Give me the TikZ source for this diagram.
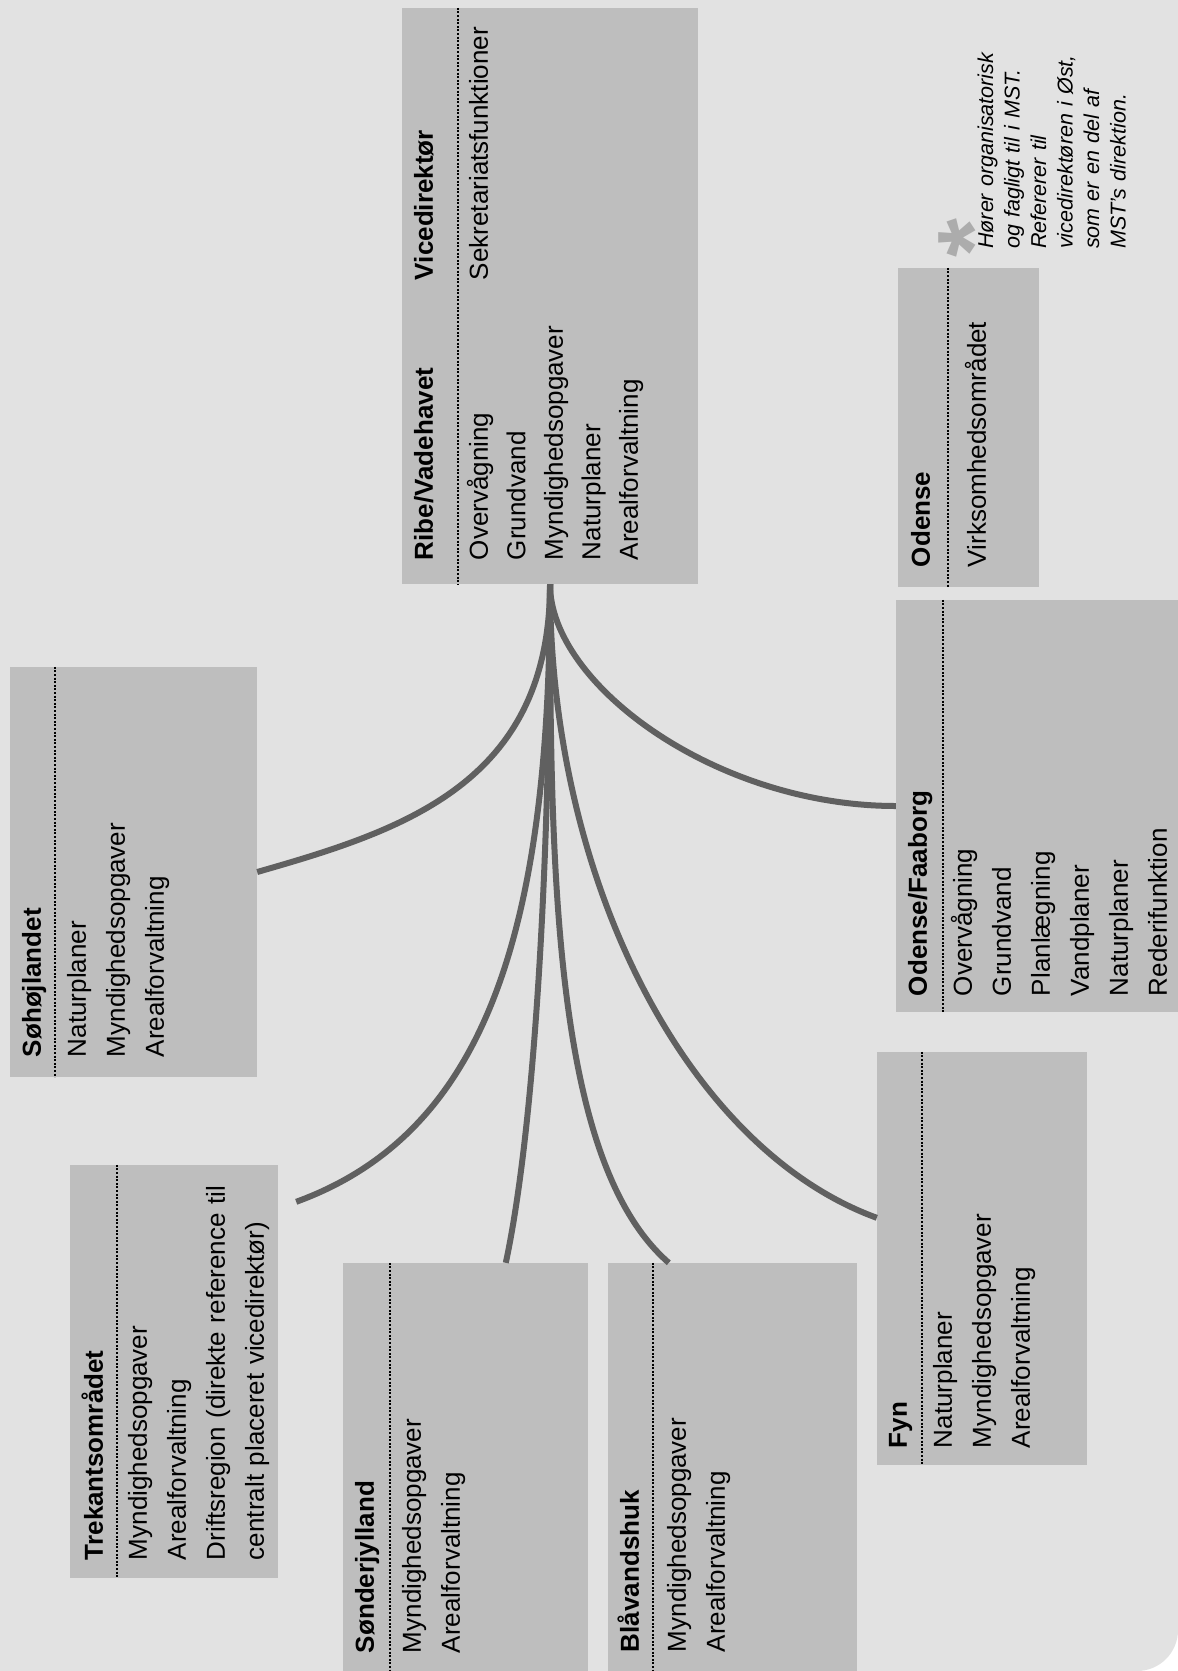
\documentclass[tikz,border=0pt]{standalone}
\usepackage{fontspec}
\setmainfont{Liberation Sans}
\usetikzlibrary{calc}
\definecolor{papir}{RGB}{226,226,226}
\definecolor{boksgraa}{RGB}{190,190,190}
\definecolor{streg}{RGB}{96,96,96}
\definecolor{stjernegraa}{RGB}{172,172,172}
\tikzset{
  boks/.style={rectangle, fill=boksgraa, inner sep=0pt},
  overskrift/.style={rotate=90, anchor=base west, inner sep=0pt, font=\bfseries\fontsize{26}{39}\selectfont},
  punkter/.style={rotate=90, anchor=base west, inner sep=0pt, align=left, text width=400pt, font=\fontsize{26}{39}\selectfont},
  prikket/.style={line width=2pt, dash pattern=on 2pt off 1.6pt},
  gren/.style={line width=6pt, streg},
  note/.style={rotate=90, anchor=base west, inner sep=0pt, align=left, text width=300pt, font=\itshape\fontsize{21.5}{26.5}\selectfont},
  stjernetegn/.style={rotate=90, anchor=base, inner sep=0pt, text=stjernegraa, font=\bfseries\fontsize{100}{100}\selectfont},
}
\begin{document}
\begin{tikzpicture}[x=1pt, y=1pt]
  \useasboundingbox (0,0) rectangle (1178,-1671);
  \fill[white] (0,0) rectangle (1178,-1671);
  \fill[papir] (0,0) -- (1178,0) -- (1178,-1630) arc[start angle=0, end angle=-90, radius=41] -- (0,-1671) -- cycle;

  \node[boks, minimum width=296pt, minimum height=576pt] (ribe) at (550,-296) {};
  \node[boks, minimum width=141pt, minimum height=319pt] (odense) at (968.5,-427.5) {};
  \node[boks, minimum width=247pt, minimum height=410pt] (soh) at (133.5,-872) {};
  \node[boks, minimum width=208pt, minimum height=413pt] (trek) at (174,-1371.5) {};
  \node[boks, minimum width=245pt, minimum height=408pt] (sond) at (465.5,-1467) {};
  \node[boks, minimum width=249pt, minimum height=408pt] (blaa) at (732.5,-1467) {};
  \node[boks, minimum width=210pt, minimum height=413pt] (fyn) at (982,-1258.5) {};
  \node[boks, minimum width=282pt, minimum height=412pt] (ofa) at (1037,-806) {};

  \draw[prikket] ($(ribe.north west)+(56,0)$) -- ($(ribe.south west)+(56,0)$);
  \draw[prikket] ($(odense.north west)+(50,0)$) -- ($(odense.south west)+(50,0)$);
  \draw[prikket] ($(soh.north west)+(45,0)$) -- ($(soh.south west)+(45,0)$);
  \draw[prikket] ($(trek.north west)+(47,0)$) -- ($(trek.south west)+(47,0)$);
  \draw[prikket] ($(sond.north west)+(47,0)$) -- ($(sond.south west)+(47,0)$);
  \draw[prikket] ($(blaa.north west)+(45,0)$) -- ($(blaa.south west)+(45,0)$);
  \draw[prikket] ($(fyn.north west)+(45,0)$) -- ($(fyn.south west)+(45,0)$);
  \draw[prikket] ($(ofa.north west)+(47,0)$) -- ($(ofa.south west)+(47,0)$);

  \node[overskrift] (ribeT) at ($(ribe.south west)+(31,24)$) {Ribe/Vadehavet};
  \node[punkter, font=\fontsize{26}{37.5}\selectfont] (ribeP) at ($(ribe.south west)+(86,24)$)
    {Overvågning\\Grundvand\\Myndighedsopgaver\\Naturplaner\\Arealforvaltning};
  \node[overskrift] (viceT) at ($(ribe.south west)+(31,304)$) {Vicedirektør};
  \node[punkter] (viceP) at ($(ribe.south west)+(86,304)$) {Sekretariatsfunktioner};

  \node[overskrift] (odenseT) at ($(odense.south west)+(32,20)$) {Odense};
  \node[punkter] (odenseP) at ($(odense.south west)+(88,20)$) {Virksomhedsområdet};

  \node[overskrift] (sohT) at ($(soh.south west)+(31,20)$) {Søhøjlandet};
  \node[punkter] (sohP) at ($(soh.south west)+(76,20)$) {Naturplaner\\Myndighedsopgaver\\Arealforvaltning};

  \node[overskrift] (trekT) at ($(trek.south west)+(33,18)$) {Trekantsområdet};
  \node[punkter] (trekP) at ($(trek.south west)+(77,18)$)
    {Myndighedsopgaver\\Arealforvaltning\\Driftsregion (direkte reference til\\centralt placeret vicedirektør)};

  \node[overskrift] (sondT) at ($(sond.south west)+(31,18)$) {Sønderjylland};
  \node[punkter] (sondP) at ($(sond.south west)+(78,18)$) {Myndighedsopgaver\\Arealforvaltning};

  \node[overskrift] (blaaT) at ($(blaa.south west)+(31,19)$) {Blåvandshuk};
  \node[punkter] (blaaP) at ($(blaa.south west)+(78,19)$) {Myndighedsopgaver\\Arealforvaltning};

  \node[overskrift] (fynT) at ($(fyn.south west)+(30,17)$) {Fyn};
  \node[punkter] (fynP) at ($(fyn.south west)+(75,17)$) {Naturplaner\\Myndighedsopgaver\\Arealforvaltning};

  \node[overskrift] (ofaT) at ($(ofa.south west)+(31,16)$) {Odense/Faaborg};
  \node[punkter] (ofaP) at ($(ofa.south west)+(76,16)$)
    {Overvågning\\Grundvand\\Planlægning\\Vandplaner\\Naturplaner\\Rederifunktion};

  \node[stjernetegn] (stjerne) at (1007,-238) {*};
  \node[note] (noten) at (993,-249)
    {Hører organisatorisk\\og fagligt til i MST.\\Refererer til\\vicedirektøren i Øst,\\som er en del af\\MST's direktion.};

  \coordinate (trekEnde) at ($(trek.north east)+(18,-37)$);
  \coordinate (sondEnde) at ($(sond.north west)+(163,0)$);
  \coordinate (blaaEnde) at ($(blaa.north west)+(61,0)$);
  \coordinate (fynEnde) at ($(fyn.north west)+(0,-166)$);

  \draw[gren] (ribe.south) to[out=-90, in=16, out distance=200pt, in distance=150pt] (soh.east);
  \draw[gren] (ribe.south) to[out=-90, in=20, out distance=350pt, in distance=200pt] (trekEnde);
  \draw[gren] (ribe.south) to[out=-90, in=78, out distance=250pt, in distance=150pt] (sondEnde);
  \draw[gren] (ribe.south) to[out=-90, in=139, out distance=300pt, in distance=150pt] (blaaEnde);
  \draw[gren] (ribe.south) to[out=-90, in=160, out distance=300pt, in distance=200pt] (fynEnde);
  \draw[gren] (ribe.south) to[out=-90, in=180, out distance=100pt, in distance=180pt] (ofa.west);
\end{tikzpicture}
\end{document}
